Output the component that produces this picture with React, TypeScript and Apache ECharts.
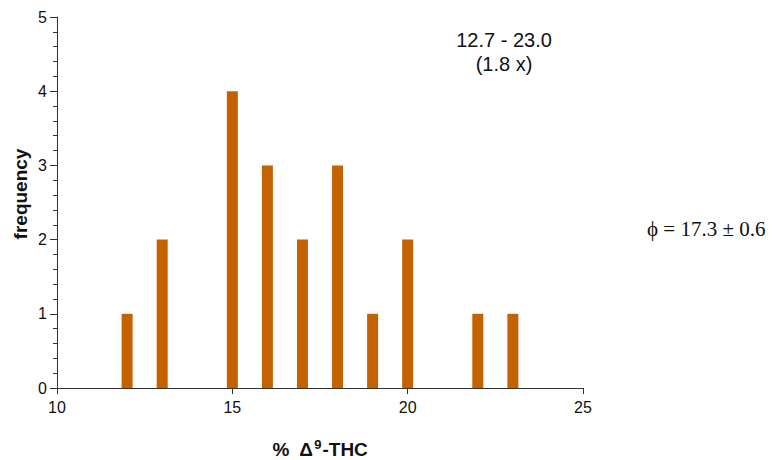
import React, { useEffect, useRef } from "react";
import * as echarts from "echarts";

const thcPercent = [12, 13, 15, 16, 17, 18, 19, 20, 22, 23];
const frequency = [1, 2, 4, 3, 2, 3, 1, 2, 1, 1];
const xTicks = [10, 15, 20, 25];
const rangeText = "12.7 - 23.0";
const foldText = "(1.8 x)";
const meanText = "ϕ = 17.3 ± 0.6";
const yAxisTitle = "frequency";

export default function App() {
  const ref = useRef<HTMLDivElement>(null);
  useEffect(() => {
    if (!ref.current) return;
    const chart = echarts.init(ref.current, undefined, { renderer: "svg" });
    const axisColor = "#333";
    const sans = "Liberation Sans, Arial, sans-serif";
    chart.setOption({
      animation: false,
      grid: { left: 57, right: 189, top: 17, bottom: 72, containLabel: false, outerBoundsMode: "none" },
      xAxis: {
        type: "value",
        min: xTicks[0],
        max: xTicks[xTicks.length - 1],
        interval: 5,
        axisLine: { show: true, lineStyle: { color: axisColor, width: 1 } },
        axisTick: { show: true, length: 6, lineStyle: { color: axisColor } },
        minorTick: { show: false },
        splitLine: { show: false },
        axisLabel: { color: "#111", fontSize: 16, fontFamily: sans, margin: 11 },
        name: "{p|%  Δ}{s|9}{p|-THC}",
        nameLocation: "middle",
        nameGap: 50,
        nameTextStyle: {
          rich: {
            p: { fontSize: 19, fontWeight: "bold", fontFamily: sans, color: "#111" },
            s: { fontSize: 13, fontWeight: "bold", fontFamily: sans, color: "#111", verticalAlign: "top", padding: [0, 1, 9, 1] },
          },
        },
      },
      yAxis: {
        type: "value",
        min: 0,
        max: 5,
        interval: 1,
        axisLine: { show: true, lineStyle: { color: axisColor, width: 1 } },
        axisTick: { show: true, length: 7, lineStyle: { color: axisColor } },
        minorTick: { show: true, splitNumber: 5, length: 4, lineStyle: { color: axisColor } },
        splitLine: { show: false },
        axisLabel: { color: "#111", fontSize: 16, fontFamily: sans, margin: 10 },
      },
      series: [
        {
          type: "bar",
          data: thcPercent.map((x, i) => [x, frequency[i]]),
          barWidth: 11,
          itemStyle: { color: "#c46200" },
        },
      ],
      graphic: [
        {
          type: "text",
          x: 20,
          y: 194,
          rotation: Math.PI / 2,
          style: { text: yAxisTitle, fontSize: 19, fontWeight: "bold", fontFamily: sans, fill: "#111", textAlign: "center", textVerticalAlign: "middle" },
        },
        {
          type: "text",
          x: 504,
          y: 40,
          style: { text: rangeText, fontSize: 20, fontFamily: sans, fill: "#111", textAlign: "center", textVerticalAlign: "middle" },
        },
        {
          type: "text",
          x: 504,
          y: 64,
          style: { text: foldText, fontSize: 20, fontFamily: sans, fill: "#111", textAlign: "center", textVerticalAlign: "middle" },
        },
        {
          type: "text",
          x: 647,
          y: 229,
          style: { text: meanText, fontSize: 21, fontFamily: "Liberation Serif, Times New Roman, serif", fill: "#111", textAlign: "left", textVerticalAlign: "middle" },
        },
      ],
    });
    return () => chart.dispose();
  }, []);
  return <div ref={ref} style={{ width: 772, height: 460, position: "absolute", left: 0, top: 0 }} />;
}
